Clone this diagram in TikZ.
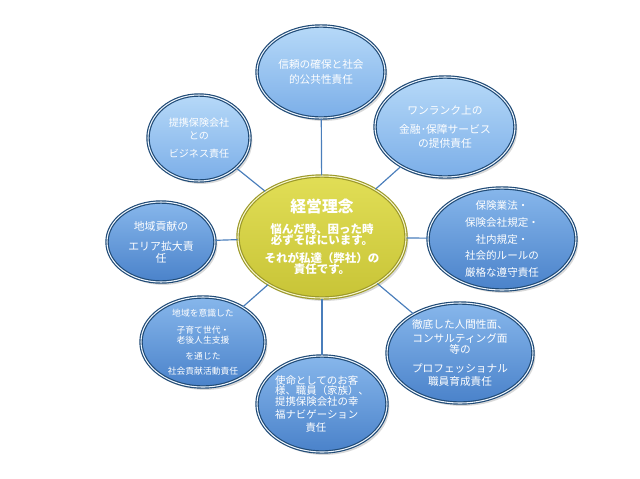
\documentclass[tikz,border=0pt]{standalone}
\definecolor{rinenFill}{HTML}{E1DE56}
\definecolor{rinenFillDark}{HTML}{C8C437}
\definecolor{rinenOlive}{HTML}{9C9928}
\definecolor{bubbleLight}{HTML}{B6D9F8}
\definecolor{bubbleMid}{HTML}{7BAEE8}
\definecolor{bubbleDeep}{HTML}{4A82CA}
\definecolor{bubbleNavy}{HTML}{1F4A76}
\definecolor{linkBlue}{HTML}{4A7EBB}
\usepackage{fontspec}
\newfontfamily\jpfont{Noto Sans CJK JP}
\usepackage{tikz}
\usetikzlibrary{shapes.geometric,shadows}
\lineskiplimit=-20pt

\begin{document}
\begin{tikzpicture}[x=0.3mm, y=-0.3mm,
                    bubble/.style={ellipse, draw=bubbleNavy, line width=1pt,
                                   double=white!75!bubbleLight, double distance=0.9pt,
                                   inner sep=0pt, align=center, text=white,
                                   font=\jpfont\fontsize{9.1}{12.8}\selectfont,
                                   drop shadow={shadow xshift=2pt, shadow yshift=-2.5pt, opacity=0.3}},
                    light/.style={bubble, top color=bubbleLight, bottom color=bubbleMid},
                    deep/.style={bubble, top color=bubbleMid!80!bubbleLight, bottom color=bubbleDeep},
                    rinenbox/.style={ellipse, draw=rinenOlive, line width=1pt,
                                     double=white!70!rinenFill, double distance=0.9pt,
                                     top color=rinenFill, bottom color=rinenFillDark,
                                     inner sep=0pt, align=center, text=white,
                                     font=\jpfont\bfseries\fontsize{9.8}{9.6}\selectfont,
                                     drop shadow={shadow xshift=2pt, shadow yshift=-2.5pt, opacity=0.3}},
                    ellsize/.style 2 args={minimum width=#1*0.3mm, minimum height=#2*0.3mm},
                    conn/.style={draw=linkBlue, line width=1pt}
                ]
                    \useasboundingbox (0,0) rectangle (640,478);
                    \node[rinenbox, ellsize={168}{122}] (rinen) at (322,237)
                        {{\fontsize{13.5}{14}\selectfont 経営理念}\\[8pt]
                         悩んだ時、困った時\\必ずそばにいます。\\[5.8pt]
                         それが私達（弊社）の\\責任です。};
                    \node[light, ellsize={128}{92}] (trust) at (321,72)
                        {信頼の確保と社会\\的公共性責任};
                    \node[light, ellsize={140}{100}, font=\jpfont\fontsize{9.2}{12}\selectfont] (service) at (445,127)
                        {ワンランク上の\\[4pt]金融･保障サービス\\の提供責任};
                    \node[light, ellsize={102}{86}, font=\jpfont\fontsize{8.6}{11}\selectfont] (partner) at (199,138)
                        {提携保険会社\\との\\[4.5pt]ビジネス責任};
                    \node[deep, ellsize={108}{80}, font=\jpfont\fontsize{9.3}{10.4}\selectfont] (area) at (161,242)
                        {地域貢献の\\[6.6pt]エリア拡大責\\任};
                    \node[deep, ellsize={148}{102}, font=\jpfont\fontsize{9}{14.2}\selectfont, inner ysep=-3pt] (law) at (502,239)
                        {保険業法・\\保険会社規定・\\社内規定・\\社会的ルールの\\厳格な遵守責任};
                    \node[deep, ellsize={124}{90}, font=\jpfont\fontsize{7.5}{8.8}\selectfont, inner ysep=-2pt] (local) at (203,342)
                        {地域を意識した\\[5.7pt]子育て世代・\\老後人生支援\\[4.9pt]を通じた\\[4pt]社会貢献活動責任};
                    \node[deep, ellsize={130}{96}, font=\jpfont\fontsize{8.9}{8.8}\selectfont, align=left, inner xsep=-1pt] (mission) at (322,404)
                        {使命としてのお客\\様、職員（家族）、\\提携保険会社の幸\\[2.3pt]福ナビゲーション\\[2.3pt]\hspace*{26pt}責任};
                    \node[deep, ellsize={146}{100}, font=\jpfont\fontsize{9.1}{12.5}\selectfont] (staff) at (460,353)
                        {徹底した人間性面、\\[-0.5pt]コンサルティング面\\[-3pt]等の\\[3.7pt]プロフェッショナル\\[-1.5pt]職員育成責任};
                    \draw[conn] (rinen) -- (trust);
                    \draw[conn] (rinen) -- (service);
                    \draw[conn] (rinen) -- (partner);
                    \draw[conn] (rinen) -- (area);
                    \draw[conn] (rinen) -- (law);
                    \draw[conn] (rinen) -- (local);
                    \draw[conn] (rinen) -- (mission);
                    \draw[conn] (rinen) -- (staff);
                \end{tikzpicture}
\end{document}
